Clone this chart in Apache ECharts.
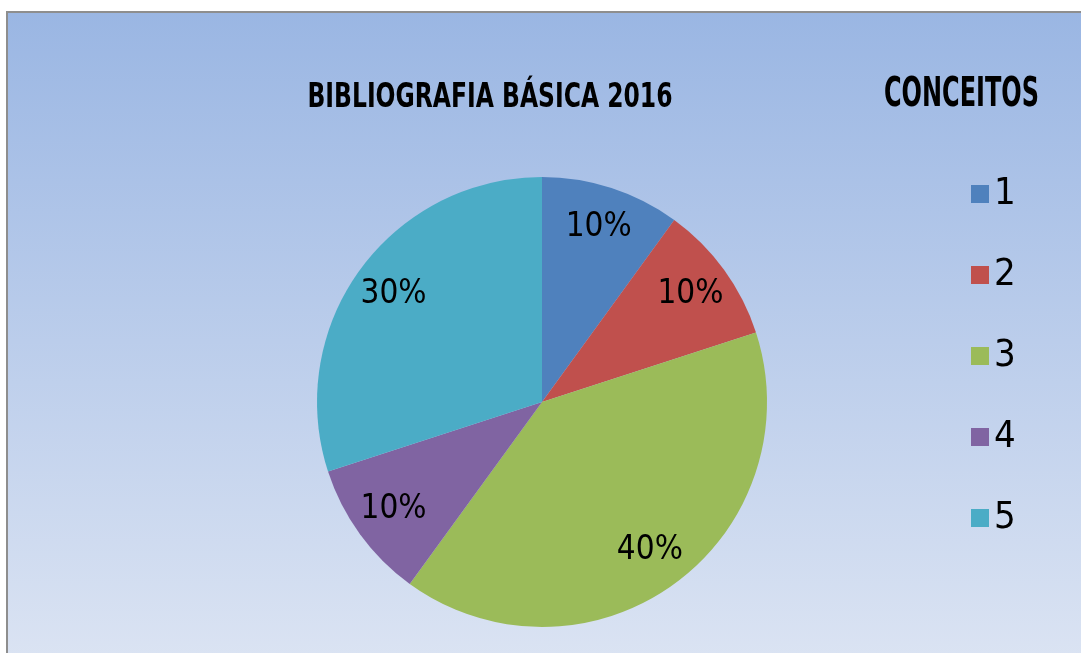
<!DOCTYPE html>
<html>
<head>
<meta charset="utf-8">
<style>
  html, body { margin: 0; padding: 0; background: #fff; }
  #chart { width: 1081px; height: 653px; }
</style>
<script src="https://cdn.jsdelivr.net/npm/echarts@6/dist/echarts.min.js"></script>
</head>
<body>
<div id="chart"></div>
<script>
var categories = ['1', '2', '3', '4', '5'];
var values = [10, 10, 40, 10, 30];
var colors = ['#4f81bd', '#c0504d', '#9bbb59', '#8064a2', '#4bacc6'];
var chartTitle = 'BIBLIOGRAFIA BÁSICA 2016';
var legendTitle = 'CONCEITOS';

var font = '"Liberation Sans Narrow", "DejaVu Sans Condensed", sans-serif';

var pieData = categories.map(function(name, i) {
  return { name: name, value: values[i], itemStyle: { color: colors[i] } };
});

var chart = echarts.init(document.getElementById('chart'));
var option = {
  backgroundColor: '#ffffff',
  animation: false,
  graphic: [
    {
      type: 'rect',
      z: -10,
      shape: { x: 7, y: 12, width: 1100, height: 700 },
      style: {
        fill: new echarts.graphic.LinearGradient(0, 0, 0, 1, [
          { offset: 0, color: '#9ab6e3' },
          { offset: 1, color: '#e0e7f4' }
        ]),
        stroke: '#8e8e8e',
        lineWidth: 2
      }
    },
    // titles drawn as text with a horizontal squeeze to get the narrow look
    {
      type: 'text',
      x: 490,
      y: 98,
      scaleX: 0.79,
      style: {
        text: chartTitle,
        font: 'bold 33px ' + font,
        fill: '#000',
        textAlign: 'center',
        textVerticalAlign: 'middle'
      }
    },
    {
      type: 'text',
      x: 884,
      y: 95,
      scaleX: 0.65,
      style: {
        text: legendTitle,
        font: 'bold 41px ' + font,
        fill: '#000',
        textAlign: 'left',
        textVerticalAlign: 'middle'
      }
    }
  ],
  legend: {
    orient: 'vertical',
    left: 966,
    top: 169,
    icon: 'rect',
    itemWidth: 18,
    itemHeight: 18,
    itemGap: 41,
    data: categories,
    textStyle: { fontFamily: font, fontSize: 38, lineHeight: 40, color: '#000' }
  },
  series: [
    {
      type: 'pie',
      center: [542, 402],
      radius: [0, 225],
      startAngle: 90,
      clockwise: true,
      label: { show: false },
      labelLine: { show: false },
      emphasis: { disabled: true },
      data: pieData
    },
    {
      // transparent ring only used to place the labels near the rim
      type: 'pie',
      center: [542, 402],
      radius: [136, 225],
      startAngle: 90,
      silent: true,
      itemStyle: { color: 'transparent' },
      label: {
        show: true,
        position: 'inside',
        formatter: '{c}%',
        fontFamily: font,
        fontSize: 33,
        color: '#000'
      },
      labelLine: { show: false },
      data: categories.map(function(name, i) {
        return { name: name, value: values[i] };
      })
    }
  ]
};
chart.setOption(option);
</script>
</body>
</html>
